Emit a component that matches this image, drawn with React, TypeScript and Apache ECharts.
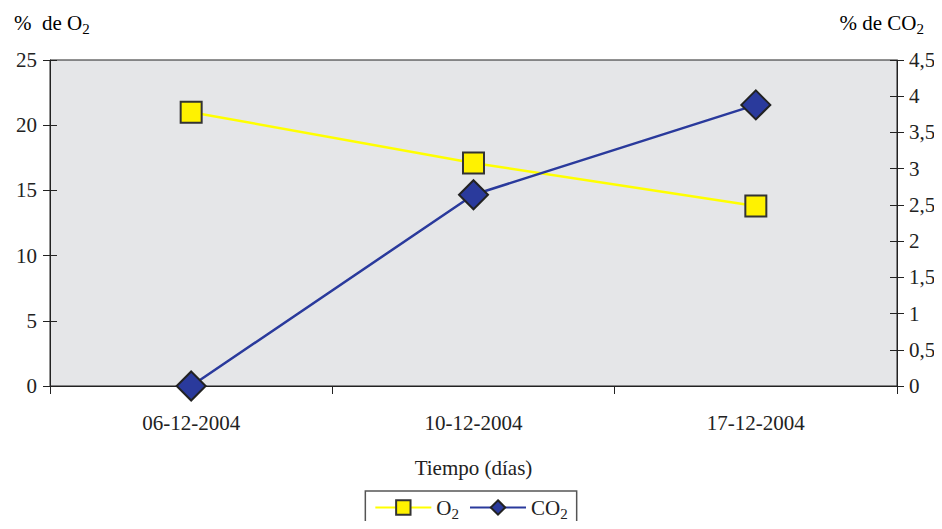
import React, { useEffect, useRef } from "react";
import * as echarts from "echarts";

const fechas = ["06-12-2004", "10-12-2004", "17-12-2004"];
const oxigeno = [21, 17.1, 13.8];
const dioxido = [0, 2.64, 3.88];

const FONT = "Liberation Serif";
const TXT = "#222";

const rich = {
  n: { fontFamily: FONT, fontSize: 21, color: TXT },
  s: { fontFamily: FONT, fontSize: 15, color: TXT, padding: [12, 0, 0, 0] },
};

const coma = (v: number) => String(v).replace(".", ",");

export default function App() {
  const ref = useRef<HTMLDivElement>(null);

  useEffect(() => {
    if (!ref.current) return;
    const chart = echarts.init(ref.current, undefined, { renderer: "svg" });
    const axisLine = { show: true, lineStyle: { color: "#222", width: 1 } };
    const label = { fontFamily: FONT, fontSize: 21, color: TXT };
    chart.setOption({
      animation: false,
      backgroundColor: "#fff",
      textStyle: { fontFamily: FONT },
      grid: {
        left: 50,
        right: 45,
        top: 60,
        bottom: 143,
        show: true,
        backgroundColor: "#e5e6e8",
        borderColor: "#222",
        borderWidth: 1,
      },
      graphic: [
        {
          type: "text",
          left: 14,
          top: 12,
          style: { text: "{n|%  de O}{s|2}", rich },
        },
        {
          type: "text",
          right: 18,
          top: 12,
          style: { text: "{n|% de CO}{s|2}", rich },
        },
      ],
      legend: {
        bottom: 3,
        left: "center",
        itemWidth: 56,
        itemHeight: 18,
        itemGap: 10,
        padding: [6, 9, 5, 9],
        borderColor: "#555",
        borderWidth: 1.5,
        borderRadius: 0,
        data: ["O2", "CO2"],
        formatter: (name: string) => `{n|${name.slice(0, -1)}}{s|2}`,
        textStyle: { rich },
      },
      xAxis: {
        type: "category",
        data: fechas,
        boundaryGap: true,
        name: "Tiempo (días)",
        nameLocation: "middle",
        nameGap: 71,
        nameTextStyle: label,
        axisLine,
        axisTick: { show: true, length: 8, lineStyle: { color: "#222" } },
        axisLabel: { margin: 26, ...label },
        splitLine: { show: false },
      },
      yAxis: [
        {
          type: "value",
          position: "left",
          min: 0,
          max: 25,
          interval: 5,
          axisLine,
          axisTick: { show: true, length: 7, lineStyle: { color: "#222" } },
          axisLabel: { margin: 13, ...label },
          splitLine: { show: false },
        },
        {
          type: "value",
          position: "right",
          min: 0,
          max: 4.5,
          interval: 0.5,
          axisLine,
          axisTick: { show: true, length: 7, lineStyle: { color: "#222" } },
          axisLabel: { margin: 12, ...label, formatter: (v: number) => coma(v) },
          splitLine: { show: false },
        },
        {
          type: "value",
          position: "left",
          min: 0,
          max: 25,
          interval: 5,
          axisLine: { show: false },
          axisTick: { show: true, inside: true, length: 7, lineStyle: { color: "#222" } },
          axisLabel: { show: false },
          splitLine: { show: false },
        },
        {
          type: "value",
          position: "right",
          min: 0,
          max: 4.5,
          interval: 0.5,
          axisLine: { show: false },
          axisTick: { show: true, inside: true, length: 7, lineStyle: { color: "#222" } },
          axisLabel: { show: false },
          splitLine: { show: false },
        },
      ],
      series: [
        {
          name: "O2",
          type: "line",
          yAxisIndex: 0,
          data: oxigeno,
          symbol: "rect",
          symbolSize: 21,
          lineStyle: { color: "#ffff00", width: 2.5 },
          itemStyle: { color: "#fff200", borderColor: "#333", borderWidth: 2 },
          z: 3,
        },
        {
          name: "CO2",
          type: "line",
          yAxisIndex: 1,
          data: dioxido,
          symbol: "diamond",
          symbolSize: 29,
          lineStyle: { color: "#2a3a9c", width: 2.5 },
          itemStyle: { color: "#2a3a9c", borderColor: "#222", borderWidth: 2 },
          z: 4,
        },
      ],
    });
    return () => chart.dispose();
  }, []);

  return <div ref={ref} style={{ width: 942, height: 529, margin: -8 }} />;
}
